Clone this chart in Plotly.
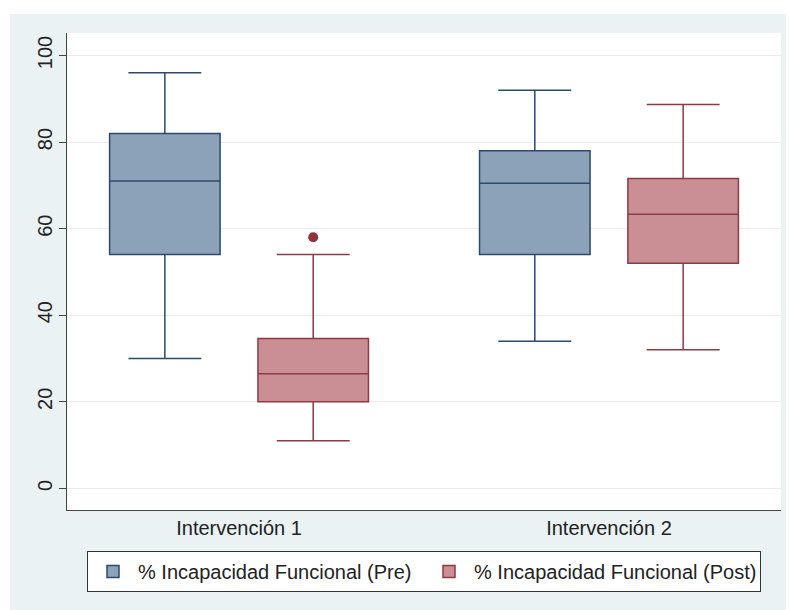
import plotly.graph_objects as go

categories = ["Intervención 1", "Intervención 2"]
series_names = ["% Incapacidad Funcional (Pre)", "% Incapacidad Funcional (Post)"]

pre_lower = [30, 34]
pre_q1 = [54, 54]
pre_median = [71, 70.5]
pre_q3 = [82, 78]
pre_upper = [96, 92]

post_lower = [11, 32]
post_q1 = [20, 52]
post_median = [26.5, 63.3]
post_q3 = [34.6, 71.6]
post_upper = [54, 88.7]
post_outliers = [[58], []]

y_ticks = [0, 20, 40, 60, 80, 100]

FONT = "Liberation Sans, Arial, sans-serif"
PRE_LINE = "#2B4A6C"
PRE_FILL = "#8BA2B9"
POST_LINE = "#8E3A44"
POST_FILL = "#C98F94"

fig = go.Figure()
fig.add_trace(go.Box(
    name=series_names[0], x=categories,
    q1=pre_q1, median=pre_median, q3=pre_q3,
    lowerfence=pre_lower, upperfence=pre_upper,
    boxpoints=False,
    fillcolor=PRE_FILL, line=dict(color=PRE_LINE, width=1.5),
    whiskerwidth=0.66, hoverinfo="skip",
))
fig.add_trace(go.Box(
    name=series_names[1], x=categories,
    q1=post_q1, median=post_median, q3=post_q3,
    lowerfence=post_lower, upperfence=post_upper,
    y=post_outliers, boxpoints="outliers",
    fillcolor=POST_FILL, line=dict(color=POST_LINE, width=1.5),
    marker=dict(color="#93303A", size=10),
    whiskerwidth=0.66, hoverinfo="skip",
))

# white outer border strips around the light graph region
shapes = [
    dict(type="rect", xref="paper", yref="paper", x0=-0.2, x1=(10 - 67) / 714, y0=-0.3, y1=1.2,
         fillcolor="white", line=dict(width=0), layer="above"),
    dict(type="rect", xref="paper", yref="paper", x0=-0.2, x1=1.2, y0=(510 - 14) / 477, y1=1.2,
         fillcolor="white", line=dict(width=0), layer="above"),
    dict(type="rect", xref="paper", yref="paper", x0=(786 - 67) / 714, x1=1.2, y0=-0.3, y1=1.2,
         fillcolor="white", line=dict(width=0), layer="above"),
]

fig.update_layout(
    width=789, height=610,
    margin=dict(l=67, r=8, t=33, b=100),
    paper_bgcolor="#EAF2F3", plot_bgcolor="white",
    font=dict(family=FONT, size=20, color="#222222"),
    boxmode="group", boxgap=0.198, boxgroupgap=0.255,
    showlegend=True,
    legend=dict(orientation="h", x=(424 - 67) / 714, y=-(551 - 510) / 477,
                xanchor="center", yanchor="top",
                bgcolor="white", bordercolor="#333333", borderwidth=1,
                font=dict(family=FONT, size=20, color="#222222"),
                entrywidth=281, entrywidthmode="pixels", itemwidth=40,
                traceorder="normal"),
    shapes=shapes,
    xaxis=dict(type="category", range=[-0.465, 1.465], showgrid=False,
               showline=True, linecolor="#444444", linewidth=1.2,
               ticks="", tickfont=dict(family=FONT, size=20, color="#222222"),
               mirror=False, zeroline=False),
    yaxis=dict(range=[-5, 105.2], tickmode="array", tickvals=y_ticks,
               ticks="outside", ticklen=7, tickcolor="#444444", tickwidth=1.2,
               tickangle=-90, ticklabelstandoff=-1,
               showgrid=True, gridcolor="#ECECEC", gridwidth=1,
               zeroline=False, showline=True, linecolor="#444444", linewidth=1.2,
               tickfont=dict(family=FONT, size=20, color="#222222")),
)

fig.write_html("out.html", config={"displayModeBar": False},
               post_script="document.body.style.margin='0';document.body.style.overflow='hidden';")
